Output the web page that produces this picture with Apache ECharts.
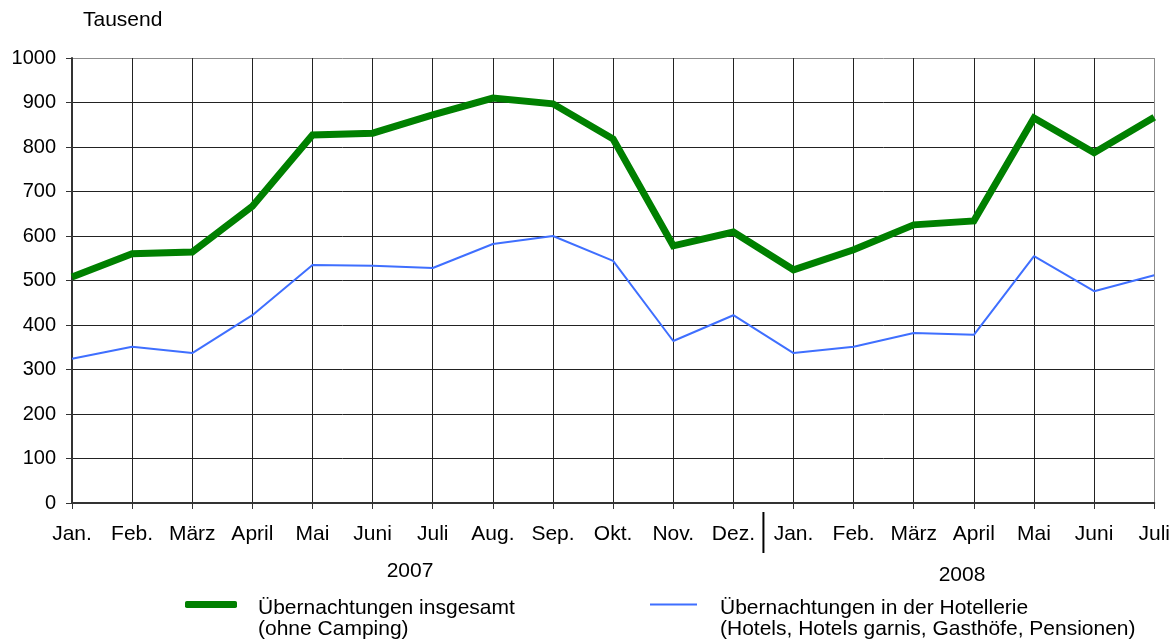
<!DOCTYPE html>
<html>
<head>
<meta charset="utf-8">
<script src="https://cdn.jsdelivr.net/npm/echarts@6/dist/echarts.min.js"></script>
<style>
  html, body { margin: 0; padding: 0; background: #fff; }
  #main { width: 1173px; height: 641px; }
</style>
</head>
<body>
<div id="main"></div>
<script>
// Monate Jan. 2007 bis Juli 2008
const months = ['Jan.', 'Feb.', 'März', 'April', 'Mai', 'Juni', 'Juli', 'Aug.', 'Sep.', 'Okt.', 'Nov.', 'Dez.',
  'Jan.', 'Feb.', 'März', 'April', 'Mai', 'Juni', 'Juli']
// Übernachtungen insgesamt (ohne Camping), Tausend
const insgesamt = [508, 560, 564, 667, 827, 831, 872, 910, 897, 818, 578, 609,
  524, 569, 625, 634, 865, 787, 867]
// Übernachtungen in der Hotellerie, Tausend
const hotellerie = [324, 351, 337, 422, 535, 533, 528, 582, 600, 544, 364, 422,
  337, 351, 382, 378, 555, 476, 512]
const yTicks = [0, 100, 200, 300, 400, 500, 600, 700, 800, 900, 1000]

const FONT = 'Liberation Sans, Arial, sans-serif'
const chart = echarts.init(document.getElementById('main'))

const xSplitColors = months.map((m, i) => (i === months.length - 1 ? '#8c8c8c' : '#222'))
const ySplitColors = yTicks.map((v, i) => (i === yTicks.length - 1 ? '#8c8c8c' : '#222'))

// erste Zeile als Abstandshalter, damit der Text unter dem Linien-Symbol beginnt
const legendText = {
  color: '#000',
  fontSize: 21,
  fontFamily: FONT,
  lineHeight: 21,
  rich: {
    sp: { lineHeight: 29, fontSize: 10 },
    t: { fontSize: 21, lineHeight: 21, fontFamily: FONT, color: '#000' }
  }
}

chart.setOption({
  animation: false,
  textStyle: { fontFamily: FONT },
  grid: { left: 72, right: 18, top: 58, bottom: 138 },
  xAxis: {
    type: 'category',
    data: months,
    boundaryGap: false,
    axisLine: { lineStyle: { color: '#333', width: 2 } },
    axisTick: { show: true, length: 6, lineStyle: { color: '#333' } },
    axisLabel: { color: '#000', fontSize: 21, margin: 21, interval: 0, fontFamily: FONT },
    splitLine: { show: true, lineStyle: { color: xSplitColors, width: 1 } }
  },
  yAxis: {
    type: 'value',
    min: 0,
    max: 1000,
    interval: 100,
    axisLine: { show: true, lineStyle: { color: '#333', width: 2 } },
    axisTick: { show: true, length: 6, lineStyle: { color: '#333' } },
    axisLabel: { color: '#000', fontSize: 20, margin: 16, fontFamily: FONT, formatter: v => String(v) },
    splitLine: { show: true, lineStyle: { color: ySplitColors, width: 1 } }
  },
  legend: [
    {
      data: ['Übernachtungen insgesamt'],
      left: 185,
      top: 569,
      padding: 0,
      itemWidth: 52,
      itemHeight: 7,
      icon: 'roundRect',
      formatter: () => '{sp| }\n{t|Übernachtungen insgesamt}\n{t|(ohne Camping)}',
      textStyle: Object.assign({}, legendText, { padding: [0, 0, 0, 16] }),
      selectedMode: false
    },
    {
      data: ['Übernachtungen in der Hotellerie'],
      left: 650,
      top: 569,
      padding: 0,
      itemWidth: 47,
      itemHeight: 2,
      icon: 'rect',
      formatter: () => '{sp| }\n{t|Übernachtungen in der Hotellerie}\n{t|(Hotels, Hotels garnis, Gasthöfe, Pensionen)}',
      textStyle: Object.assign({}, legendText, { padding: [0, 0, 0, 18] }),
      selectedMode: false
    }
  ],
  series: [
    {
      name: 'Übernachtungen insgesamt',
      type: 'line',
      data: insgesamt,
      showSymbol: false,
      symbol: 'none',
      color: '#008000',
      lineStyle: { color: '#008000', width: 7, join: 'miter' },
      z: 3
    },
    {
      name: 'Übernachtungen in der Hotellerie',
      type: 'line',
      data: hotellerie,
      showSymbol: false,
      symbol: 'none',
      color: '#3f6fff',
      lineStyle: { color: '#3f6fff', width: 2 },
      z: 2
    }
  ]
})

// Jahrestrenner und Beschriftungen
const xDez = chart.convertToPixel({ xAxisIndex: 0 }, 11)
const xJan = chart.convertToPixel({ xAxisIndex: 0 }, 12)
const xSep = (xDez + xJan) / 2
chart.setOption({
  graphic: [
    { type: 'text', left: 83, top: 10, style: { text: 'Tausend', fontSize: 21, fontFamily: FONT, fill: '#000' } },
    { type: 'line', shape: { x1: xSep, y1: 512, x2: xSep, y2: 553 }, style: { stroke: '#000', lineWidth: 2 } },
    { type: 'text', x: 410, y: 571, style: { text: '2007', fontSize: 21, fontFamily: FONT, fill: '#000', align: 'center', verticalAlign: 'middle' } },
    { type: 'text', x: 962, y: 575, style: { text: '2008', fontSize: 21, fontFamily: FONT, fill: '#000', align: 'center', verticalAlign: 'middle' } }
  ]
})
</script>
</body>
</html>
